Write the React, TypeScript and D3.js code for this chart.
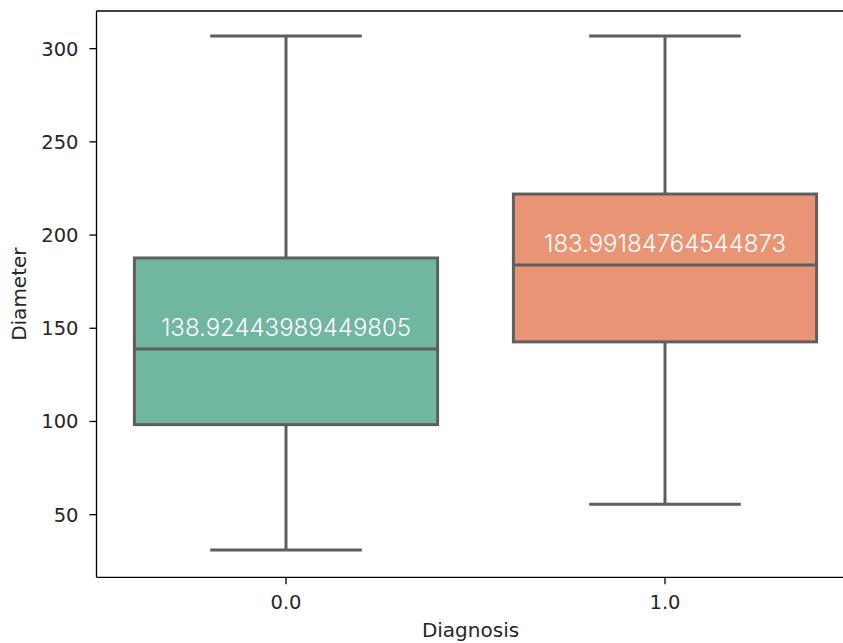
import * as d3 from "d3";

const categories = ["0.0", "1.0"];
const medians = [138.92443989449805, 183.99184764544873];
const q1 = [98.3, 142.7];
const q3 = [187.7, 222.0];
const whiskerLow = [31.0, 55.6];
const whiskerHigh = [306.8, 306.8];
const fills = ["#71b6a0", "#e99575"];
const yTicks = [50, 100, 150, 200, 250, 300];

const W = 843;
const H = 643;
const margin = { top: 11, right: -11.5, bottom: 65.7, left: 96.5 };
const lineColor = "#5f5f5f";
const textColor = "#262626";

const App = () => {
  const x = d3
    .scaleBand<string>()
    .domain(categories)
    .range([margin.left, W - margin.right])
    .paddingInner(0.2)
    .paddingOuter(0.1);

  const y = d3
    .scaleLinear()
    .domain([16.4, 320.2])
    .range([H - margin.bottom, margin.top]);

  const bw = x.bandwidth();
  const step = x.step();
  const capHalf = step * 0.2;
  const bottom = H - margin.bottom;

  return (
    <svg
      width={W}
      height={H}
      style={{ position: "absolute", left: 0, top: 0, background: "#fff" }}
      fontFamily="'DejaVu Sans', sans-serif"
    >
      {/* boxes */}
      {categories.map((c, i) => {
        const x0 = x(c)!;
        const cx = x0 + bw / 2;
        return (
          <g key={c}>
            <line x1={cx} x2={cx} y1={y(q3[i])} y2={y(whiskerHigh[i])} stroke={lineColor} strokeWidth={3} />
            <line x1={cx} x2={cx} y1={y(q1[i])} y2={y(whiskerLow[i])} stroke={lineColor} strokeWidth={3} />
            <line x1={cx - capHalf} x2={cx + capHalf} y1={y(whiskerHigh[i])} y2={y(whiskerHigh[i])} stroke={lineColor} strokeWidth={3} />
            <line x1={cx - capHalf} x2={cx + capHalf} y1={y(whiskerLow[i])} y2={y(whiskerLow[i])} stroke={lineColor} strokeWidth={3} />
            <rect
              x={x0}
              y={y(q3[i])}
              width={bw}
              height={y(q1[i]) - y(q3[i])}
              fill={fills[i]}
              stroke={lineColor}
              strokeWidth={3}
            />
            <line x1={x0} x2={x0 + bw} y1={y(medians[i])} y2={y(medians[i])} stroke={lineColor} strokeWidth={3} />
            <text
              x={cx}
              y={y(medians[i]) - 12.5}
              textAnchor="middle"
              fill="#fff"
              fontFamily="Inter, 'Open Sans', sans-serif"
              fontWeight={300}
              fontSize={24}
            >
              {medians[i]}
            </text>
          </g>
        );
      })}

      {/* spines */}
      <line x1={margin.left} x2={margin.left} y1={margin.top} y2={bottom} stroke="#000" strokeWidth={1.3} />
      <line x1={margin.left} x2={W} y1={bottom} y2={bottom} stroke="#000" strokeWidth={1.3} />
      <line x1={margin.left} x2={W} y1={margin.top} y2={margin.top} stroke="#000" strokeWidth={1.3} />

      {/* y axis */}
      {yTicks.map((t) => (
        <g key={t} transform={`translate(0,${y(t)})`}>
          <line x1={margin.left - 7} x2={margin.left} stroke="#000" strokeWidth={1.3} />
          <text x={margin.left - 18} dy="0.36em" textAnchor="end" fontSize={19.5} fill={textColor}>
            {t}
          </text>
        </g>
      ))}

      {/* x axis */}
      {categories.map((c) => {
        const cx = x(c)! + bw / 2;
        return (
          <g key={c} transform={`translate(${cx},${bottom})`}>
            <line y1={0} y2={7} stroke="#000" strokeWidth={1.3} />
            <text y={31.5} textAnchor="middle" fontSize={19.5} fill={textColor}>
              {c}
            </text>
          </g>
        );
      })}

      <text x={(margin.left + W - margin.right) / 2 - 5} y={637} textAnchor="middle" fontSize={20} fill={textColor}>
        Diagnosis
      </text>
      <text
        transform={`translate(26,${(margin.top + bottom) / 2})rotate(-90)`}
        textAnchor="middle"
        fontSize={20}
        fill={textColor}
      >
        Diameter
      </text>
      {step > 0 ? null : null}
    </svg>
  );
};

export default App;
